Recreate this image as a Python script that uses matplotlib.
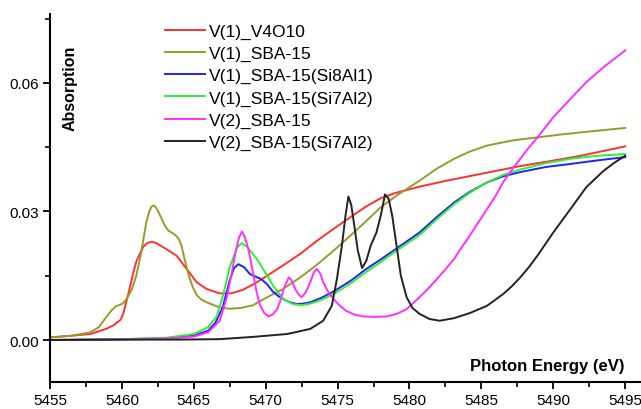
import matplotlib.pyplot as plt
from matplotlib.ticker import MultipleLocator

plt.rcParams['font.family'] = ['Liberation Sans', 'DejaVu Sans']

# ------------------------------
# Data (energy in eV, absorption)
# ------------------------------

v4o10_x = [5455, 5456.5, 5457.8, 5458.9, 5459.4, 5459.9, 5460.1, 5460.3, 5460.55, 5460.8,
           5461.0, 5461.3, 5461.5, 5461.8, 5462.1, 5462.4, 5463.1, 5463.8, 5464.5, 5465.2,
           5465.9, 5466.8, 5467.6, 5468.4, 5469.2, 5470.1, 5471.2, 5472.4, 5473.5, 5474.7,
           5475.9, 5477.0, 5478.0, 5479.0, 5480.7, 5482.6, 5485.0, 5487.7, 5489.5, 5491.9,
           5495.0]
v4o10_y = [0.0006, 0.0010, 0.0014, 0.0026, 0.0034, 0.0047, 0.0062, 0.0088, 0.0122, 0.0158,
           0.0183, 0.0205, 0.0218, 0.0227, 0.0229, 0.0226, 0.0212, 0.0197, 0.0166, 0.0135,
           0.0119, 0.0109, 0.0109, 0.0117, 0.0131, 0.0150, 0.0174, 0.0201, 0.0230, 0.0259,
           0.0287, 0.0312, 0.0331, 0.0343, 0.0358, 0.0372, 0.0388, 0.0406, 0.0416, 0.0430,
           0.0452]

sba_x = [5455, 5456.5, 5457.8, 5458.4, 5458.9, 5459.3, 5459.6, 5459.85, 5460.1, 5460.4,
         5460.7, 5461.0, 5461.3, 5461.5, 5461.7, 5461.9, 5462.05, 5462.2, 5462.35, 5462.5,
         5462.75, 5463.0, 5463.25, 5463.5, 5463.75, 5463.95, 5464.15, 5464.3, 5464.5, 5464.7,
         5464.95, 5465.2, 5465.5, 5465.9, 5466.8, 5467.5, 5468.3, 5469.1, 5470.0, 5471.2,
         5472.4, 5473.5, 5474.7, 5475.9, 5477.0, 5478.0, 5479.1, 5480.7, 5481.9, 5483.1,
         5484.2, 5485.4, 5487.2, 5488.9, 5490.6, 5492.3, 5495.0]
sba_y = [0.0006, 0.0010, 0.0018, 0.0030, 0.0053, 0.0070, 0.0079, 0.0082, 0.0086, 0.0100,
         0.0119, 0.0150, 0.0197, 0.0236, 0.0275, 0.0300, 0.0311, 0.0314, 0.0310, 0.0302,
         0.0284, 0.0266, 0.0255, 0.0250, 0.0244, 0.0236, 0.0220, 0.0197, 0.0170, 0.0145,
         0.0122, 0.0105, 0.0095, 0.0088, 0.0076, 0.0073, 0.0075, 0.0081, 0.0098, 0.0119,
         0.0146, 0.0174, 0.0208, 0.0244, 0.0278, 0.0310, 0.0337, 0.0372, 0.0400, 0.0423,
         0.0440, 0.0454, 0.0466, 0.0473, 0.0480, 0.0486, 0.0495]

si8al1_x = [5455, 5460, 5463, 5465, 5466.0, 5466.5, 5467.0, 5467.5, 5467.8, 5468.1,
            5468.5, 5468.9, 5469.3, 5469.7, 5470.1, 5470.5, 5470.9, 5471.4, 5471.8, 5472.2,
            5472.6, 5473.1, 5473.9, 5474.7, 5475.9, 5477.0, 5478.0, 5478.9, 5480.7, 5481.9,
            5483.1, 5484.2, 5485.4, 5486.5, 5487.7, 5489.5, 5491.2, 5493.0, 5495.0]
si8al1_y = [0.0, 0.0002, 0.0004, 0.0010, 0.0022, 0.0040, 0.0075, 0.0140, 0.0168, 0.0177,
            0.0170, 0.0154, 0.0148, 0.0142, 0.0130, 0.0113, 0.0102, 0.0092, 0.0087, 0.0084,
            0.0085, 0.0088, 0.0099, 0.0113, 0.0138, 0.0166, 0.0188, 0.0209, 0.0251, 0.0287,
            0.0321, 0.0346, 0.0368, 0.0382, 0.0392, 0.0404, 0.0411, 0.0419, 0.0427]

si7al2_x = [5455, 5460, 5463, 5465, 5466.0, 5466.6, 5467.0, 5467.5, 5468.0, 5468.3,
            5468.7, 5469.1, 5469.5, 5469.8, 5470.2, 5470.5, 5470.9, 5471.2, 5471.6, 5471.9,
            5472.3, 5472.6, 5473.1, 5473.9, 5474.7, 5475.9, 5477.0, 5478.0, 5478.9, 5480.7,
            5481.9, 5483.1, 5484.2, 5485.4, 5486.5, 5487.7, 5489.5, 5491.2, 5493.0, 5495.0]
si7al2_y = [0.0, 0.0002, 0.0005, 0.0014, 0.0030, 0.0055, 0.0100, 0.0170, 0.0215, 0.0226,
            0.0218, 0.0201, 0.0184, 0.0166, 0.0146, 0.0127, 0.0110, 0.0096, 0.0089, 0.0084,
            0.0082, 0.0082, 0.0085, 0.0094, 0.0107, 0.0132, 0.0159, 0.0182, 0.0204, 0.0245,
            0.0282, 0.0317, 0.0344, 0.0368, 0.0385, 0.0398, 0.0413, 0.0423, 0.0430, 0.0434]

v2_sba_x = [5455, 5460, 5463, 5465, 5466.0, 5466.8, 5467.3, 5467.6, 5467.9, 5468.15,
            5468.35, 5468.55, 5468.8, 5469.1, 5469.35, 5469.6, 5469.9, 5470.2, 5470.5, 5470.8,
            5471.0, 5471.25, 5471.6, 5471.8, 5472.05, 5472.3, 5472.5, 5472.8, 5473.1, 5473.35,
            5473.55, 5473.8, 5474.0, 5474.3, 5474.7, 5475.1, 5475.6, 5476.2, 5476.8, 5477.6,
            5478.4, 5479.1, 5479.8, 5480.7, 5481.3, 5481.9, 5482.5, 5483.1, 5483.6, 5484.2,
            5484.8, 5485.4, 5486.0, 5486.5, 5487.1, 5487.7, 5488.3, 5488.9, 5490.0, 5491.2,
            5492.3, 5493.5, 5495.0]
v2_sba_y = [0.0, 0.0001, 0.0003, 0.0008, 0.0018, 0.0045, 0.0100, 0.0150, 0.0205, 0.0240,
            0.0253, 0.0240, 0.0212, 0.0160, 0.0115, 0.0082, 0.0063, 0.0055, 0.0060, 0.0072,
            0.0090, 0.0119, 0.0146, 0.0140, 0.0119, 0.0106, 0.0100, 0.0112, 0.0135, 0.0158,
            0.0166, 0.0155, 0.0135, 0.0115, 0.0096, 0.0082, 0.0068, 0.0059, 0.0055, 0.0054,
            0.0055, 0.0061, 0.0072, 0.0100, 0.0120, 0.0142, 0.0165, 0.0189, 0.0215, 0.0244,
            0.0275, 0.0306, 0.0337, 0.0368, 0.0396, 0.0423, 0.0449, 0.0473, 0.0520, 0.0563,
            0.0602, 0.0637, 0.0676]

v2_si7al2_x = [5455, 5460, 5464, 5466.8, 5469, 5471.5, 5473.1, 5474.0, 5474.6, 5474.95,
               5475.3, 5475.55, 5475.75, 5475.95, 5476.15, 5476.4, 5476.7, 5477.0, 5477.3, 5477.7,
               5478.0, 5478.3, 5478.55, 5478.8, 5479.1, 5479.4, 5479.8, 5480.2, 5480.7, 5481.4,
               5482.1, 5483.1, 5484.2, 5485.4, 5486.5, 5487.1, 5487.7, 5488.3, 5488.9, 5490.0,
               5491.2, 5492.3, 5493.5, 5494.3, 5495.0]
v2_si7al2_y = [0.0, 0.0001, 0.0001, 0.0002, 0.0007, 0.0014, 0.0026, 0.0045, 0.0080, 0.0142,
               0.0220, 0.0290, 0.0335, 0.0315, 0.0270, 0.0210, 0.0168, 0.0185, 0.0220, 0.0251,
               0.0290, 0.0340, 0.0330, 0.0290, 0.0220, 0.0150, 0.0100, 0.0075, 0.0061, 0.0049,
               0.0045, 0.0051, 0.0063, 0.0080, 0.0107, 0.0125, 0.0146, 0.0170, 0.0197, 0.0251,
               0.0306, 0.0357, 0.0395, 0.0415, 0.0430]

SERIES = [
    ("V(1)_V4O10", v4o10_x, v4o10_y, "#ff3030"),
    ("V(1)_SBA-15", sba_x, sba_y, "#9a9a2a"),
    ("V(1)_SBA-15(Si8Al1)", si8al1_x, si8al1_y, "#2020ff"),
    ("V(1)_SBA-15(Si7Al2)", si7al2_x, si7al2_y, "#30ee30"),
    ("V(2)_SBA-15", v2_sba_x, v2_sba_y, "#ff30ff"),
    ("V(2)_SBA-15(Si7Al2)", v2_si7al2_x, v2_si7al2_y, "#222222"),
]

# ------------------------------
# Plotting
# ------------------------------

W, H = 641, 410
fig = plt.figure(figsize=(W / 100, H / 100), dpi=100)
ax = fig.add_axes([50 / W, 1 - 383 / H, 1 - 50 / W, (383 - 15) / H])

for label, xs, ys, color in SERIES:
    ax.plot(xs, ys, color=color, linewidth=1.4, label=label, solid_joinstyle="round")

ax.set_xlim(5455, 5496.1)
ax.set_ylim(-0.0098, 0.0761)

ax.xaxis.set_major_locator(MultipleLocator(5))
ax.xaxis.set_minor_locator(MultipleLocator(2.5))
ax.yaxis.set_major_locator(MultipleLocator(0.03))
ax.yaxis.set_minor_locator(MultipleLocator(0.015))
ax.yaxis.set_major_formatter(plt.FuncFormatter(lambda v, p: f"{v:.2f}"))

for side in ("top", "right"):
    ax.spines[side].set_visible(False)
for side in ("left", "bottom"):
    ax.spines[side].set_linewidth(1.5)

ax.tick_params(which="major", direction="out", length=5, width=1.3, labelsize=11, pad=3)
ax.tick_params(which="minor", direction="out", length=3.5, width=1.2)

fig.text(70 / W, 1 - 88 / H, "Absorption", rotation=90, ha="center", va="center",
         fontsize=11.5, fontweight="bold")
fig.text(624 / W, 1 - 367 / H, "Photon Energy (eV)", ha="right", va="center",
         fontsize=12, fontweight="bold")

ax.legend(loc="upper left", bbox_to_anchor=(165 / W, 1 - 24.5 / H),
          bbox_transform=fig.transFigure, frameon=False, fontsize=12.5,
          handlelength=2.3, handletextpad=0.25, labelspacing=0.4, borderpad=0,
          borderaxespad=0)

fig.savefig("out.png", dpi=100)
